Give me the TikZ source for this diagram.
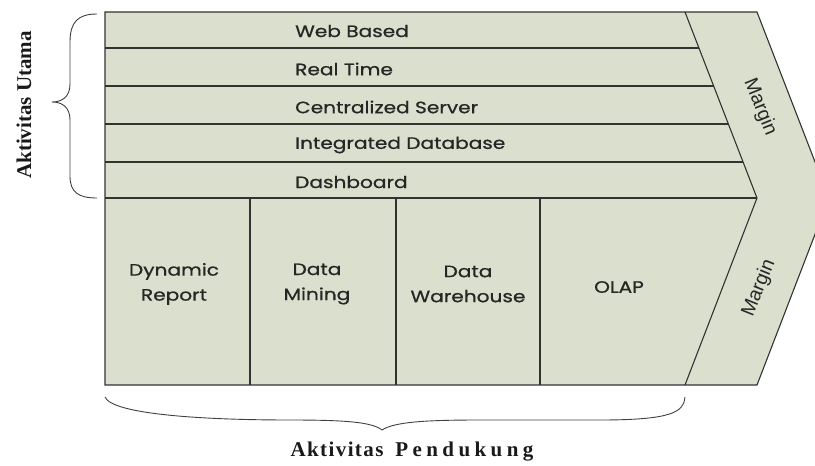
\documentclass[tikz,border=0pt]{standalone}
\usepackage{fontspec}
\setmainfont{Liberation Serif}
\newfontfamily\boxfont[FakeStretch=1.22,FakeBold=0.8]{Poppins}
\newfontfamily\marginfont{Liberation Sans}
\definecolor{chainfill}{RGB}{218,224,205}
\definecolor{chainline}{RGB}{50,50,50}
% set a word with a fixed gap between its letters
\makeatletter
\newcommand\spacedword[2]{\def\sw@gap{#1}\@tfor\sw@ch:=#2\do{\sw@ch\kern\sw@gap}\unkern}
\makeatother
\begin{document}
\begin{tikzpicture}[x=1pt,y=-1pt,
  outline/.style={draw=chainline,line width=1.1pt},
  rowtext/.style={anchor=west,inner sep=0pt,font=\boxfont\fontsize{16.5}{18}\selectfont,text=black!85},
  coltext/.style={align=center,font=\boxfont\fontsize{16.5}{25}\selectfont,text=black!85},
  margintext/.style={font=\marginfont\fontsize{19.5}{21}\selectfont,text=black!85},
  bracetext/.style={font=\bfseries\fontsize{21}{23}\selectfont,text=black!90},
  bracepath/.style={draw=black!75,line width=0.9pt}]
\useasboundingbox (0,0) rectangle (815,466);
\begin{scope}
\clip (0,0) rectangle (815,466);
% outer chevron body
\path[outline,fill=chainfill] (105,12) -- (757,12) -- (829,198) -- (757,385) -- (105,385) -- cycle;
% inner chevron edge separating the margin band
\draw[outline] (685,12) -- (757,198) -- (685,385);
% primary activity rows
\foreach \y/\xr in {48/698.9,86/713.6,124/728.4,162/743.1}
  \draw[outline] (105,\y) -- (\xr,\y);
\draw[outline] (105,198) -- (757,198);
% support activity columns
\foreach \x in {250,396,540}
  \draw[outline] (\x,198) -- (\x,385);
\end{scope}

\node[rowtext] (web)  at (295,31)  {Web Based};
\node[rowtext] (rt)   at (295,69)  {Real Time};
\node[rowtext] (cs)   at (295,107) {Centralized Server};
\node[rowtext] (idb)  at (295,145) {Integrated Database};
\node[rowtext] (dash) at (295,182) {Dashboard};

\node[coltext] (dyn)  at (174,284) {Dynamic\\Report};
\node[coltext] (dmin) at (317,284) {Data\\Mining};
\node[coltext] (dwh)  at (468,284) {Data\\Warehouse};
\node[coltext] (olap) at (619,287) {OLAP};

\node[margintext,rotate=-68] (mtop) at (760,107) {Margin};
\node[margintext,rotate=68]  (mbot) at (759,288) {Margin};

% brace over the primary activities
\draw[bracepath] (97,14) .. controls (78,14) and (70,22) .. (70,42)
  -- (70,84) .. controls (70,97) and (62,102) .. (52,102)
  .. controls (62,102) and (70,107) .. (70,120)
  -- (70,176) .. controls (70,192) and (78,198) .. (97,198);
\node[bracetext,rotate=90] (main) at (24,105) {Aktivitas Utama};

% brace under the support activities
\draw[bracepath] (105,397) .. controls (112,414) and (200,420) .. (290,420)
  .. controls (345,420) and (372,422) .. (382,430)
  .. controls (394,422) and (425,420) .. (480,420)
  -- (600,420) .. controls (672,420) and (684,412) .. (685,397);
\node[bracetext] (supp) at (412,452)
  {\spacedword{1.4pt}{Aktivitas}\hspace{12pt}\spacedword{4.4pt}{Pendukung}};
\end{tikzpicture}
\end{document}
